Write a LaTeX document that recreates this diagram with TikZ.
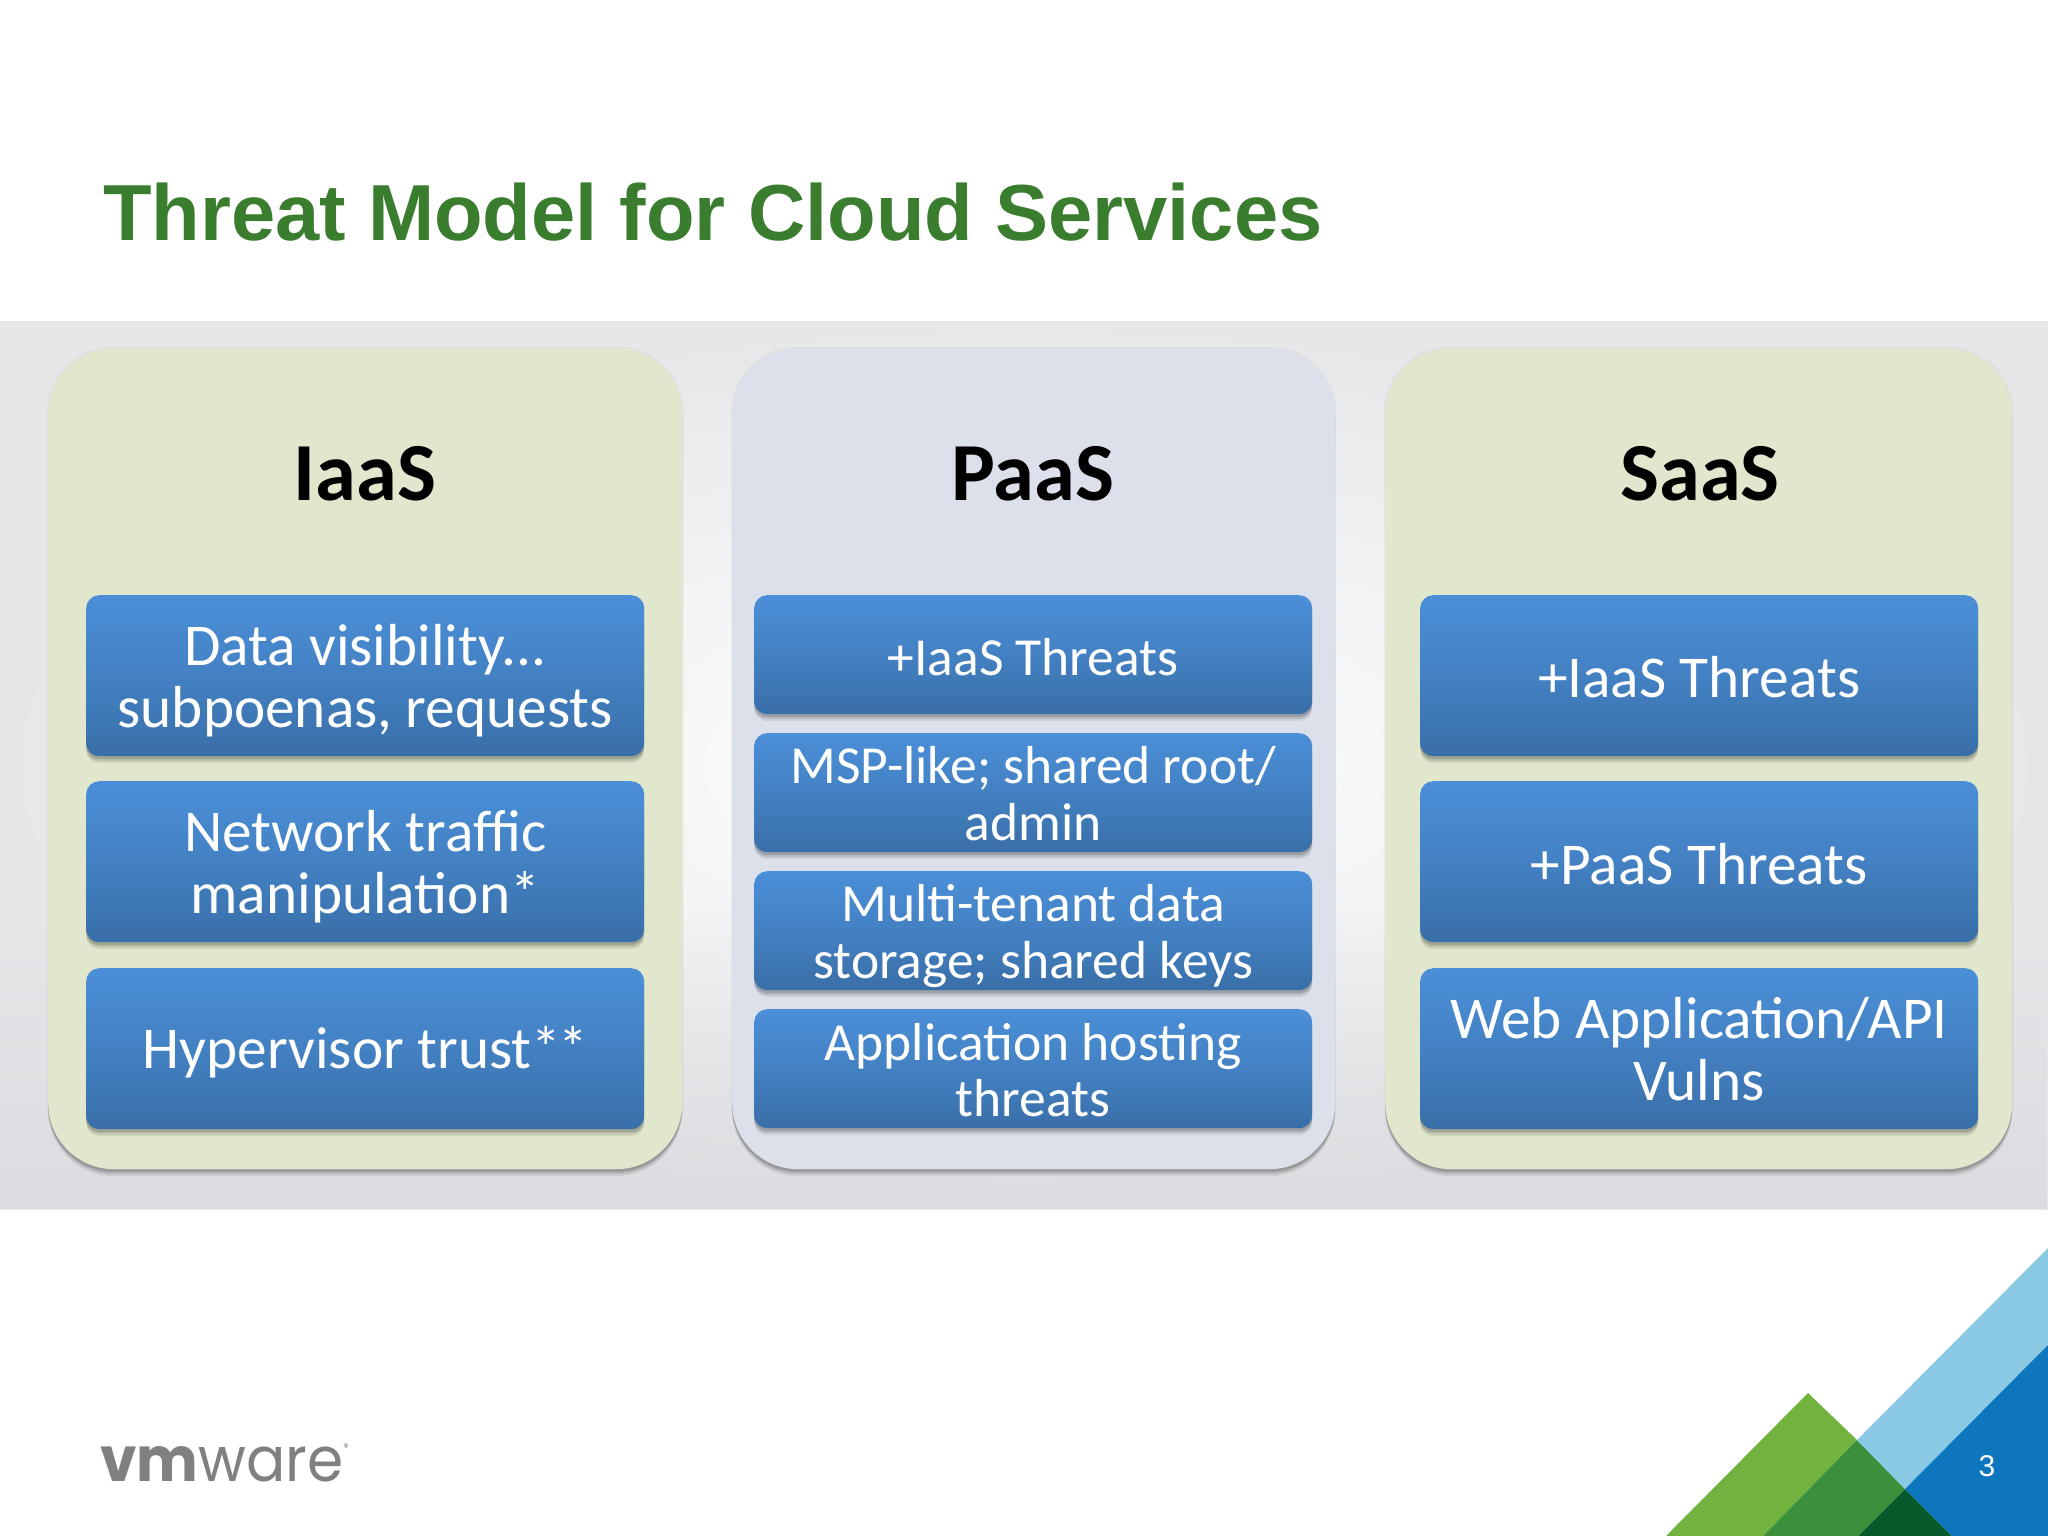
\documentclass[tikz,border=0pt]{standalone}
\usepackage{fontspec}
\setmainfont{Carlito}
\newfontfamily\titlefont{Liberation Sans}
\newfontfamily\logofont{Poppins}
\usetikzlibrary{shadows,fadings}
\definecolor{greenpanel}{HTML}{E0E7CD}
\definecolor{bluepanel}{HTML}{DBE0EB}
\definecolor{boxtop}{HTML}{4B8FD8}
\definecolor{boxbot}{HTML}{396FA8}
\definecolor{titlegreen}{HTML}{3B7D2F}
\definecolor{bandedge}{HTML}{E6E7E9}
\definecolor{bandlow}{HTML}{D8D9DD}
\definecolor{logogray}{HTML}{808080}
\definecolor{leafgreen}{HTML}{72B33F}
\definecolor{midgreen}{HTML}{3C8F3B}
\definecolor{darkgreen}{HTML}{075A2C}
\definecolor{skyblue}{HTML}{8ACAE4}
\definecolor{deepblue}{HTML}{0D76BC}
\newcommand\lowerby[2]{\raisebox{0pt}[\dimexpr\height+2\dimexpr#1\relax\relax][\depth]{#2}}
\tikzset{
  softbox/.style={
    general shadow={shadow xshift=0pt,shadow yshift=-7pt,fill=black,opacity=.07},
    general shadow={shadow xshift=0pt,shadow yshift=-5pt,fill=black,opacity=.10},
    general shadow={shadow xshift=0pt,shadow yshift=-3pt,fill=black,opacity=.14}},
  panel/.style={
    general shadow={shadow xshift=0pt,shadow yshift=0pt,shadow scale=1.004,fill=black,opacity=.03},
    softbox,rounded corners=66pt,inner sep=0pt,anchor=north west},
  threat/.style={softbox,rounded corners=13pt,inner sep=0pt,anchor=north west,
    top color=boxtop,bottom color=boxbot,middle color=boxtop!55!boxbot,
    text=white,align=center,minimum width=558pt},
  big/.style={threat,minimum height=161pt,font=\fontsize{59.3}{62.5}\selectfont},
  small/.style={threat,minimum height=119pt,font=\fontsize{53.5}{56.5}\selectfont},
  heading/.style={font=\fontsize{82.5}{86}\selectfont\bfseries,text=black,inner sep=0pt},
}
\begin{document}
\begin{tikzpicture}[x=1pt,y=-1pt]
\useasboundingbox (0,0) rectangle (2048,1536);
\fill[white] (0,0) rectangle (2048,1536);
\node[anchor=base west,inner sep=0pt,text=titlegreen,font=\fontsize{79.5}{84}\selectfont\titlefont\bfseries] (title) at (103,240) {Threat Model for Cloud Services};
\path[inner color=white,outer color=bandedge] (0,321) rectangle (2048,1209);
\fill[bandlow,path fading=north,opacity=.75] (0,900) rectangle (2048,1209);
% panels
\node[panel,fill=greenpanel,minimum width=634pt,minimum height=821pt] (p1) at (48,348) {};
\node[panel,fill=bluepanel,minimum width=603pt,minimum height=821pt] (p2) at (732,348) {};
\node[panel,fill=greenpanel,minimum width=627pt,minimum height=821pt] (p3) at (1385,348) {};
\node[heading] (h1) at (365,474) {IaaS};
\node[heading] (h2) at (1033,474) {PaaS};
\node[heading] (h3) at (1700,474) {SaaS};
% IaaS
\node[big] (a1) at (86,595) {\lowerby{5pt}{Data visibility...}\\subpoenas, requests};
\node[big] (a2) at (86,781) {\lowerby{5pt}{Network traffic}\\manipulation*};
\node[big] (a3) at (86,968) {\lowerby{4pt}{Hypervisor trust*\kern-3pt*}};
% PaaS
\node[small] (b1) at (754,595) {\lowerby{2pt}{+IaaS Threats}};
\node[small] (b2) at (754,733) {\lowerby{1pt}{MSP-like; shared root/}\\admin};
\node[small] (b3) at (754,871) {\lowerby{5.5pt}{Multi-tenant data}\\storage; shared keys};
\node[small] (b4) at (754,1009) {\lowerby{1.5pt}{Application hosting}\\threats};
% SaaS
\node[big] (c1) at (1420,595) {\lowerby{1.5pt}{+IaaS Threats}};
\node[big] (c2) at (1420,781) {\lowerby{2.5pt}{+PaaS Threats}};
\node[big] (c3) at (1420,968) {\lowerby{0.5pt}{Web Application/API}\\Vulns};
% corner graphic
\fill[leafgreen] (1808,1393)--(1857,1440)--(1763,1536)--(1666,1536)--cycle;
\fill[midgreen] (1857,1440)--(1905,1489)--(1858,1536)--(1763,1536)--cycle;
\fill[darkgreen] (1905,1489)--(1952,1536)--(1858,1536)--cycle;
\fill[skyblue] (2048,1248)--(2048,1345)--(1905,1489)--(1857,1440)--cycle;
\fill[deepblue] (2048,1345)--(2048,1536)--(1952,1536)--(1905,1489)--cycle;
\node[text=white,inner sep=0pt,font=\fontsize{30}{32}\selectfont\titlefont] (page) at (1987,1466) {3};
% logo
\node[anchor=base west,inner sep=0pt,text=logogray,font=\fontsize{62}{62}\selectfont\logofont] (logo) at (100,1481) {\scalebox{.94}[1]{{\bfseries vm}ware\raisebox{30pt}{\fontsize{11}{11}\selectfont®}}};
\end{tikzpicture}
\end{document}
